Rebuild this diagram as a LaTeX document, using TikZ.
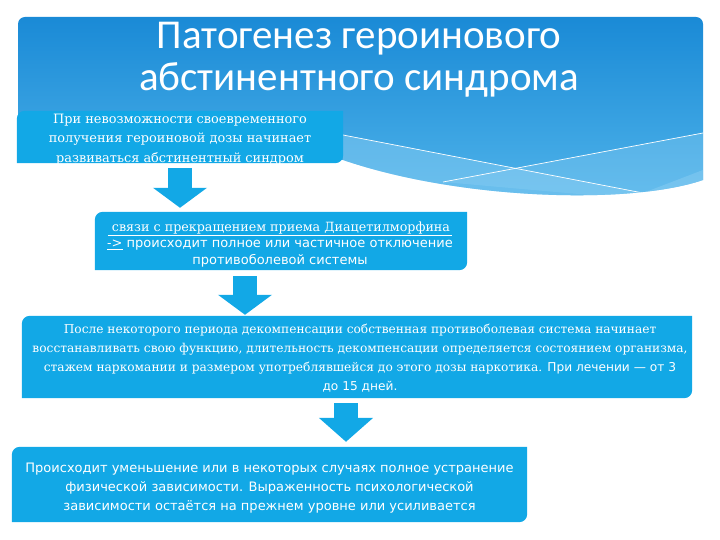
\documentclass[tikz,border=0pt]{standalone}
\usepackage{fontspec}
\setmainfont{DejaVu Serif}
\setsansfont{DejaVu Sans}
\newfontfamily\titlefont{Carlito}
\usetikzlibrary{arrows.meta,backgrounds,calc}
\definecolor{boxblue}{HTML}{12A8E6}
\definecolor{titletop}{HTML}{1A8AD6}
\definecolor{titlebot}{HTML}{50B4EA}
\definecolor{bandblue}{HTML}{8ED0F4}
\begin{document}
\begin{tikzpicture}[x=1pt,y=-1pt,
  box/.style={inner sep=0pt},
  txt/.style={inner sep=0pt, align=center, text=white},
  blockarrow/.style={draw=boxblue, line width=24pt, -{Triangle[width=53pt,length=#1]}},
  titletext/.style={text=white, align=center, font={\titlefont\fontsize{41}{42}\selectfont}}]
\useasboundingbox (0,0) rectangle (720,540);

% title
\node[titletext] (title) at (359,60) {Патогенез героинового\\абстинентного синдрома};

% boxes
\node[box, minimum width=326pt, minimum height=52pt] (b1) at (180,137) {};
\node[box, minimum width=372pt, minimum height=58pt] (b2) at (281,241) {};
\node[box, minimum width=670pt, minimum height=82pt] (b3) at (357,357) {};
\node[box, minimum width=515pt, minimum height=75pt] (b4) at (269.5,484.5) {};

% texts
\node[txt, font={\rmfamily\fontsize{12.9}{19.5}\selectfont}] (t1) at (180,139.5)
  {При невозможности своевременного\\получения героиновой дозы начинает\\развиваться абстинентный синдром};
\node[txt, font={\sffamily\fontsize{13}{16.5}\selectfont}] (t2) at (280,244.5)
  {{\rmfamily\fontsize{12.7}{16.5}\selectfont\underline{\ связи с прекращением приема Диацетилморфина\,}}\\
   {\rmfamily\underline{->}} происходит полное или частичное отключение\\противоболевой системы};
\node[txt, font={\rmfamily\fontsize{12.2}{19}\selectfont}] (t3) at (360,358)
  {После некоторого периода декомпенсации собственная противоболевая система начинает\\
   восстанавливать свою функцию, длительность декомпенсации определяется состоянием организма,\\
   стажем наркомании и размером употреблявшейся до этого дозы наркотика. {\sffamily При лечении — от 3}\\
   {\sffamily до 15 дней.}};
\node[txt, font={\sffamily\fontsize{13}{19}\selectfont}] (t4) at (269.5,488.5)
  {Происходит уменьшение или в некоторых случаях полное устранение\\
   физической зависимости. Выраженность психологической\\
   зависимости остаётся на прежнем уровне или усиливается};

\begin{scope}[on background layer]
  \begin{scope}
  % banner
  \clip (18,24) arc[start angle=180,end angle=90,radius=7pt] -- (696,17)
     arc[start angle=90,end angle=0,radius=7pt] -- (703,180)
     .. controls (630,205) and (460,200) .. (343,160) -- (18,160) -- cycle;
  \shade[top color=titletop, bottom color=titlebot] (18,17) rectangle (703,205);
  \fill[bandblue, opacity=0.45] (343,135) -- (643,193) -- (703,170) -- (703,205) -- (343,205) -- cycle;
  \fill[bandblue, opacity=0.35] (443,182) -- (703,133) -- (703,205) -- cycle;
  \draw[white, line width=0.7pt] (343,135) -- (643,193);
  \draw[white, line width=0.7pt] (443,182) -- (703,133);
  \end{scope}
  \foreach \n in {b1,b2,b3,b4}{
    \fill[boxblue] ([xshift=8pt]\n.north west) -- (\n.north east)
      -- ([yshift=8pt]\n.south east) arc[start angle=0,end angle=-90,radius=8pt]
      -- (\n.south west) -- ([yshift=-8pt]\n.north west)
      arc[start angle=180,end angle=90,radius=8pt] -- cycle;
  }
\end{scope}

% arrows
\coordinate (a1) at (180,0);
\coordinate (a2) at (245,0);
\coordinate (a3) at (346,0);
\draw[blockarrow=20pt, shorten <=5pt, shorten >=4pt] (b1.south -| a1) -- (b2.north -| a1);
\draw[blockarrow=20pt, shorten <=6pt, shorten >=1pt] (b2.south -| a2) -- (b3.north -| a2);
\draw[blockarrow=24pt, shorten <=5pt, shorten >=5pt] (b3.south -| a3) -- (b4.north -| a3);
\end{tikzpicture}
\end{document}
